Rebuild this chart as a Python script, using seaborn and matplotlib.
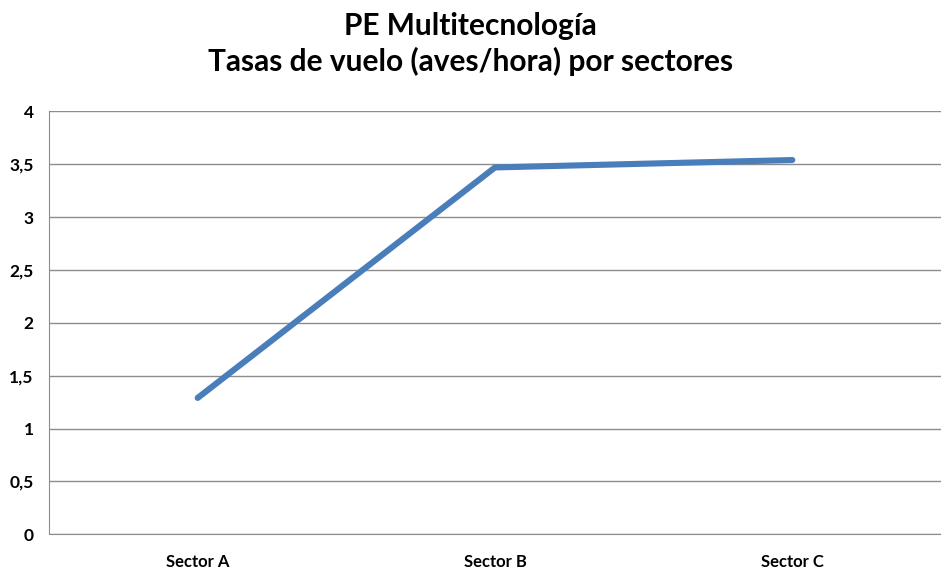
import pandas as pd
import matplotlib.pyplot as plt
import seaborn as sns
from matplotlib.ticker import FuncFormatter

sectores = ["Sector A", "Sector B", "Sector C"]
tasas = [1.29, 3.47, 3.54]
y_ticks = [0, 0.5, 1, 1.5, 2, 2.5, 3, 3.5, 4]

df = pd.DataFrame({"sector": sectores, "tasa": tasas})

sns.set_style("white")
plt.rcParams["font.family"] = ["Lato", "DejaVu Sans"]

fig = plt.figure(figsize=(9.41, 5.70), dpi=100)
ax = fig.add_axes([49 / 941, 35.7 / 570, 892 / 941, 422.9 / 570])

sns.lineplot(data=df, x="sector", y="tasa", ax=ax, color="#4a7ebb",
             linewidth=4.4, solid_capstyle="round", solid_joinstyle="miter")

ax.set_ylim(0, 4)
ax.set_xlim(-0.5, 2.473)
ax.set_yticks(y_ticks)
ax.yaxis.set_major_formatter(FuncFormatter(lambda v, p: f"{v:g}".replace(".", ",")))
ax.grid(axis="y", color="#8c8c8c", linewidth=1)
ax.set_axisbelow(True)

ax.set_xticks([-0.5, 0.5, 1.5, 2.5], minor=True)
ax.tick_params(axis="x", which="minor", length=5, color="#8c8c8c", width=1, direction="out")
ax.tick_params(axis="x", which="major", length=0, pad=14, labelsize=12, labelcolor="black")
ax.tick_params(axis="y", length=5, color="#8c8c8c", width=1, direction="out",
               labelsize=12.5, pad=6, labelcolor="black")
for lab in ax.get_xticklabels() + ax.get_yticklabels():
    lab.set_fontweight("bold")

for s in ["top", "right"]:
    ax.spines[s].set_visible(False)
ax.spines["left"].set_color("#8c8c8c")
ax.spines["bottom"].set_color("#8c8c8c")
ax.set_xlabel("")
ax.set_ylabel("")

fig.suptitle("PE Multitecnología\nTasas de vuelo (aves/hora) por sectores",
             x=0.5, y=0.979, fontsize=21.5, fontweight="bold", linespacing=1.3,
             color="black")

fig.savefig("out.png", dpi=100)
